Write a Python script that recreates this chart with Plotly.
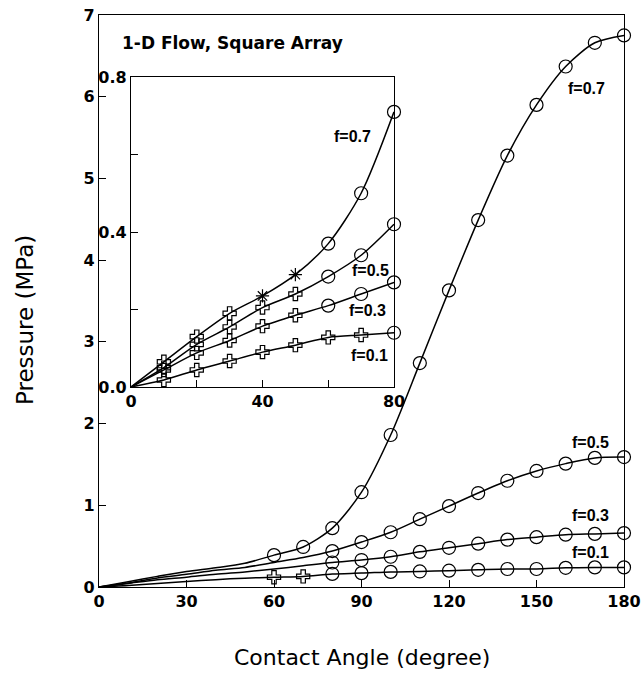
import plotly.graph_objects as go

# ---------------- data ----------------
angles_main = [0, 10, 20, 30, 40, 50, 60, 70, 80, 90, 100, 110, 120, 130, 140, 150, 160, 170, 180]
p07_main = [0, 0.065, 0.13, 0.19, 0.235, 0.29, 0.39, 0.49, 0.72, 1.16, 1.86, 2.74, 3.63, 4.49, 5.28, 5.90, 6.37, 6.66, 6.75]
p05_main = [0, 0.05, 0.11, 0.155, 0.205, 0.24, 0.30, 0.36, 0.44, 0.55, 0.67, 0.83, 0.99, 1.15, 1.30, 1.42, 1.51, 1.58, 1.59]
p03_main = [0, 0.044, 0.088, 0.12, 0.157, 0.185, 0.22, 0.26, 0.30, 0.33, 0.37, 0.43, 0.48, 0.53, 0.58, 0.61, 0.64, 0.65, 0.66]
p01_main = [0, 0.018, 0.044, 0.067, 0.09, 0.108, 0.12, 0.13, 0.16, 0.17, 0.185, 0.19, 0.20, 0.21, 0.22, 0.22, 0.235, 0.24, 0.24]

# which main-plot points carry a marker (symbol) ; None = no marker
sym_main_07 = [None] * 6 + ["circle-open"] * 13
sym_main_05 = [None] * 8 + ["circle-open"] * 11
sym_main_03 = [None] * 8 + ["circle-open"] * 11
sym_main_01 = [None] * 6 + ["cross-open"] * 2 + ["circle-open"] * 11

angles_inset = [0, 10, 20, 30, 40, 50, 60, 70, 80]
p07_inset = [0, 0.065, 0.13, 0.19, 0.235, 0.29, 0.37, 0.50, 0.71]
p05_inset = [0, 0.05, 0.11, 0.155, 0.205, 0.24, 0.285, 0.34, 0.42]
p03_inset = [0, 0.044, 0.088, 0.12, 0.157, 0.185, 0.21, 0.24, 0.27]
p01_inset = [0, 0.018, 0.044, 0.067, 0.09, 0.108, 0.128, 0.134, 0.14]

sym_inset_07 = [None] + ["cross-open"] * 3 + ["asterisk-open"] * 2 + ["circle-open"] * 3
sym_inset_05 = [None] + ["cross-open"] * 5 + ["circle-open"] * 3
sym_inset_03 = [None] + ["cross-open"] * 5 + ["circle-open"] * 3
sym_inset_01 = [None] + ["cross-open"] * 7 + ["circle-open"]

labels = ["f=0.7", "f=0.5", "f=0.3", "f=0.1"]
main_label_pos = [(167, 6.1), (168.5, 1.77), (168.6, 0.87), (168.6, 0.42)]
inset_label_pos = [(67.5, 0.647), (73, 0.30), (72, 0.198), (72.6, 0.082)]

x_ticks_main = [0, 30, 60, 90, 120, 150, 180]
y_ticks_main = [0, 1, 2, 3, 4, 5, 6, 7]
x_ticks_inset = [0, 20, 40, 60, 80]
x_ticktext_inset = ["0", "", "40", "", "80"]
y_ticks_inset = [0.0, 0.2, 0.4, 0.6, 0.8]
y_ticktext_inset = ["0.0", "", "0.4", "", "0.8"]

# ---------------- figure ----------------
fig = go.Figure()
FONT = "Liberation Sans"
WFONT = "DejaVu Sans"

W, H = 641, 678
ML, MR, MT, MB = 99, 17, 15, 91


def add_series(x, y, syms, xa, ya):
    fig.add_trace(go.Scatter(x=x, y=y, mode="lines", line=dict(color="black", width=1.5, shape="spline", smoothing=0.8),
                             xaxis=xa, yaxis=ya, showlegend=False, hoverinfo="skip"))
    for s in set(v for v in syms if v):
        xs = [xv for xv, sv in zip(x, syms) if sv == s]
        ys = [yv for yv, sv in zip(y, syms) if sv == s]
        size = 13 if s == "circle-open" else 11
        fig.add_trace(go.Scatter(x=xs, y=ys, mode="markers",
                                 marker=dict(symbol=s, size=size, color="black", line=dict(width=1.2, color="black")),
                                 xaxis=xa, yaxis=ya, cliponaxis=False, showlegend=False))


for y, s in zip([p07_main, p05_main, p03_main, p01_main], [sym_main_07, sym_main_05, sym_main_03, sym_main_01]):
    add_series(angles_main, y, s, "x", "y")
for y, s in zip([p07_inset, p05_inset, p03_inset, p01_inset], [sym_inset_07, sym_inset_05, sym_inset_03, sym_inset_01]):
    add_series(angles_inset, y, s, "x2", "y2")

for lab, (lx, ly) in zip(labels, main_label_pos):
    fig.add_annotation(x=lx, y=ly, xref="x", yref="y", text=lab, showarrow=False,
                       font=dict(family=FONT, size=16, color="black", weight="bold"))
for lab, (lx, ly) in zip(labels, inset_label_pos):
    fig.add_annotation(x=lx, y=ly, xref="x2", yref="y2", text=lab, showarrow=False,
                       font=dict(family=FONT, size=16, color="black", weight="bold"))

pw, ph = W - ML - MR, H - MT - MB


def px(xp):
    return (xp - ML) / pw


def py(yp):
    return (H - MB - yp) / ph


fig.add_annotation(x=px(120), y=py(43), xref="paper", yref="paper", xanchor="left", yanchor="middle",
                   text="1-D Flow, Square Array", showarrow=False,
                   font=dict(family=WFONT, size=17, color="black", weight="bold"))
fig.add_annotation(x=px(362), y=py(657), xref="paper", yref="paper", xanchor="center", yanchor="middle",
                   text="Contact Angle (degree)", showarrow=False,
                   font=dict(family=WFONT, size=22, color="black"))
fig.add_annotation(x=px(25), y=py(320), xref="paper", yref="paper", xanchor="center", yanchor="middle",
                   text="Pressure (MPa)", showarrow=False, textangle=-90,
                   font=dict(family=WFONT, size=23, color="black"))

axis_common = dict(showgrid=False, zeroline=False, showline=True, linecolor="black", linewidth=1.2,
                   mirror=True, ticks="inside", tickcolor="black", ticklen=7, tickwidth=1.2, automargin=False,
                   tickfont=dict(family=WFONT, size=16, color="black", weight="bold"))

fig.update_layout(
    width=W, height=H,
    margin=dict(l=ML, r=MR, t=MT, b=MB),
    paper_bgcolor="white", plot_bgcolor="white",
    xaxis=dict(domain=[0, 1], range=[0, 180], tickvals=x_ticks_main, **axis_common),
    yaxis=dict(domain=[0, 1], range=[0, 7], tickvals=y_ticks_main, **axis_common),
    xaxis2=dict(domain=[px(131), px(394)], range=[0, 80], anchor="y2", tickvals=x_ticks_inset,
                ticktext=x_ticktext_inset, **axis_common),
    yaxis2=dict(domain=[py(387), py(77)], range=[0, 0.8], anchor="x2", tickvals=y_ticks_inset,
                ticktext=y_ticktext_inset, **axis_common),
)

fig.write_html("out.html")
